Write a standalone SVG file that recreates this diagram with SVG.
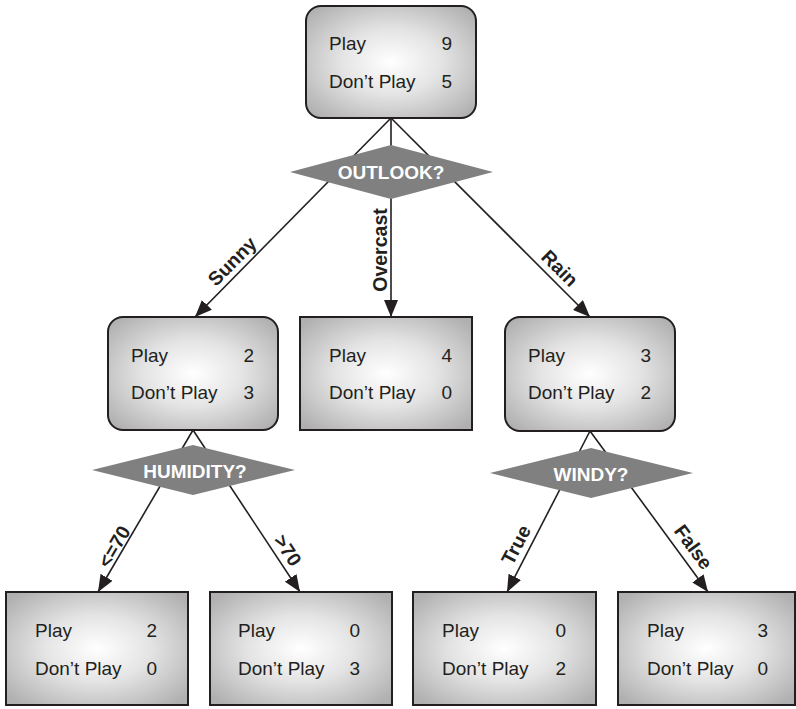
<svg xmlns="http://www.w3.org/2000/svg" width="796" height="709" viewBox="0 0 796 709">
  <style>
    .box { fill: url(#boxFill); stroke: #231f20; stroke-width: 2; }
    .lbl { font-family: "Liberation Sans", Arial, sans-serif; font-size: 19px; fill: #231f20; }
    .num { font-family: "Liberation Sans", Arial, sans-serif; font-size: 19px; fill: #231f20; text-anchor: end; }
    .dia { fill: #808080; }
    .q { font-family: "Liberation Sans", Arial, sans-serif; font-size: 19px; font-weight: bold; fill: #ffffff; text-anchor: middle; }
    .edge { stroke: #231f20; stroke-width: 1.6; fill: none; marker-end: url(#arrow); }
    .elbl { font-family: "Liberation Sans", Arial, sans-serif; font-size: 19.5px; font-weight: bold; fill: #231f20; text-anchor: middle; }
  </style>
  <defs>
    <radialGradient id="boxFill" cx="50%" cy="50%" r="65%">
      <stop offset="0" stop-color="#ffffff"/>
      <stop offset="0.45" stop-color="#e4e4e4"/>
      <stop offset="1" stop-color="#b0b0b0"/>
    </radialGradient>
    <marker id="arrow" markerUnits="userSpaceOnUse" markerWidth="17" markerHeight="14" refX="17" refY="7" orient="auto">
      <path d="M0,0 L17,7 L0,14 z" fill="#231f20"/>
    </marker>
  </defs>

  <!-- connectors -->
  <g id="connectors">
    <path class="edge" d="M391,118 L195,317"/>
    <path class="edge" d="M391,118 L391,317"/>
    <path class="edge" d="M391,118 L590,317"/>
    <path class="edge" d="M193,430 L98,592"/>
    <path class="edge" d="M193,430 L300,592"/>
    <path class="edge" d="M590,431 L507,592"/>
    <path class="edge" d="M590,431 L708,592"/>
  </g>

  <!-- edge labels -->
  <g id="edge-labels">
    <text class="elbl" transform="translate(237,266) rotate(-45.4)">Sunny</text>
    <text class="elbl" transform="translate(387,250) rotate(-90)">Overcast</text>
    <text class="elbl" transform="translate(555,273) rotate(45)">Rain</text>
    <text class="elbl" transform="translate(120,550) rotate(-59.6)">&lt;=70</text>
    <text class="elbl" transform="translate(282,554) rotate(56.6)">&gt;70</text>
    <text class="elbl" transform="translate(522,548) rotate(-62.4)">True</text>
    <text class="elbl" transform="translate(688,551) rotate(53.8)">False</text>
  </g>

  <!-- decision diamonds -->
  <g id="q-outlook">
    <polygon class="dia" points="290,172 391,145 493,172 391,199"/>
    <text class="q" x="391" y="179">OUTLOOK?</text>
  </g>
  <g id="q-humidity">
    <polygon class="dia" points="92,470 193,445 295,470 193,495"/>
    <text class="q" x="195" y="478">HUMIDITY?</text>
  </g>
  <g id="q-windy">
    <polygon class="dia" points="490,473 591,448 693,473 591,498"/>
    <text class="q" x="591" y="481">WINDY?</text>
  </g>

  <!-- count nodes -->
  <g id="root">
    <rect class="box" x="306" y="6" width="170" height="112" rx="15"/>
    <text class="lbl" x="329" y="50">Play</text><text class="num" x="452" y="50">9</text>
    <text class="lbl" x="329" y="88">Don’t Play</text><text class="num" x="452" y="88">5</text>
  </g>
  <g id="sunny">
    <rect class="box" x="108" y="317" width="170" height="113" rx="15"/>
    <text class="lbl" x="131" y="362">Play</text><text class="num" x="254" y="362">2</text>
    <text class="lbl" x="131" y="399">Don’t Play</text><text class="num" x="254" y="399">3</text>
  </g>
  <g id="overcast">
    <rect class="box" x="300" y="317" width="172" height="113"/>
    <text class="lbl" x="329" y="362">Play</text><text class="num" x="452" y="362">4</text>
    <text class="lbl" x="329" y="399">Don’t Play</text><text class="num" x="452" y="399">0</text>
  </g>
  <g id="rain">
    <rect class="box" x="505" y="317" width="170" height="114" rx="15"/>
    <text class="lbl" x="528" y="362">Play</text><text class="num" x="651" y="362">3</text>
    <text class="lbl" x="528" y="399">Don’t Play</text><text class="num" x="651" y="399">2</text>
  </g>
  <g id="humidity-low">
    <rect class="box" x="6" y="592" width="182" height="113"/>
    <text class="lbl" x="35" y="637">Play</text><text class="num" x="157" y="637">2</text>
    <text class="lbl" x="35" y="675">Don’t Play</text><text class="num" x="157" y="675">0</text>
  </g>
  <g id="humidity-high">
    <rect class="box" x="210" y="592" width="182" height="113"/>
    <text class="lbl" x="238" y="637">Play</text><text class="num" x="360" y="637">0</text>
    <text class="lbl" x="238" y="675">Don’t Play</text><text class="num" x="360" y="675">3</text>
  </g>
  <g id="windy-true">
    <rect class="box" x="413" y="592" width="183" height="113"/>
    <text class="lbl" x="442" y="637">Play</text><text class="num" x="566" y="637">0</text>
    <text class="lbl" x="442" y="675">Don’t Play</text><text class="num" x="566" y="675">2</text>
  </g>
  <g id="windy-false">
    <rect class="box" x="618" y="592" width="177" height="113"/>
    <text class="lbl" x="647" y="637">Play</text><text class="num" x="768" y="637">3</text>
    <text class="lbl" x="647" y="675">Don’t Play</text><text class="num" x="768" y="675">0</text>
  </g>
</svg>
